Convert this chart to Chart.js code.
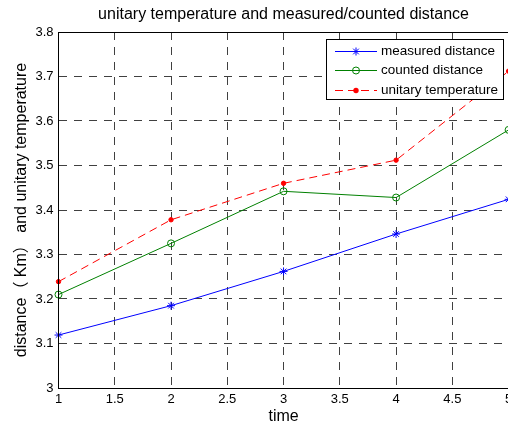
<!DOCTYPE html>
<html><head><meta charset="utf-8">
<script src="https://cdn.jsdelivr.net/npm/chart.js@4"></script>
<style>
html,body{margin:0;padding:0;background:#fff;overflow:hidden;width:508px;height:426px}
canvas{display:block}
</style></head>
<body><canvas id="c" width="520" height="426"></canvas>
<script>
const times = [1, 2, 3, 4, 5];
const measuredDistance = [3.119, 3.185, 3.262, 3.346, 3.424];
const countedDistance = [3.210, 3.325, 3.442, 3.428, 3.580];
const unitaryTemperature = [3.239, 3.378, 3.460, 3.512, 3.712];
const xTicks = [1, 1.5, 2, 2.5, 3, 3.5, 4, 4.5, 5];
const yTicks = [3, 3.1, 3.2, 3.3, 3.4, 3.5, 3.6, 3.7, 3.8];
const seriesNames = ['measured distance', 'counted distance', 'unitary temperature'];
const titleText = 'unitary temperature and measured/counted distance';
const xLabel = 'time';
const yLabel = 'distance（ Km） and unitary temperature';

const FAMILY = "'Liberation Sans', Arial, 'Noto Sans CJK SC', sans-serif";
const BLUE = '#0000ff', GREEN = '#008000', RED = '#ff0000';

function pts(vals) { return times.map((t, i) => ({ x: t, y: vals[i] })); }

function drawMarker(ctx, style, x, y, color) {
  ctx.save();
  ctx.strokeStyle = color; ctx.fillStyle = color; ctx.lineWidth = 1; ctx.setLineDash([]);
  if (style === 'star') {
    const r = 4, d = r * Math.SQRT1_2;
    ctx.beginPath();
    ctx.moveTo(x - r, y); ctx.lineTo(x + r, y);
    ctx.moveTo(x, y - r); ctx.lineTo(x, y + r);
    ctx.moveTo(x - d, y - d); ctx.lineTo(x + d, y + d);
    ctx.moveTo(x - d, y + d); ctx.lineTo(x + d, y - d);
    ctx.stroke();
  } else if (style === 'circle') {
    ctx.beginPath(); ctx.arc(x, y, 3.5, 0, Math.PI * 2); ctx.stroke();
  } else {
    ctx.beginPath(); ctx.arc(x, y, 2.7, 0, Math.PI * 2); ctx.fill();
  }
  ctx.restore();
}

const decor = {
  id: 'decor',
  afterDraw(chart) {
    const { ctx, chartArea: a } = chart;
    ctx.save();
    // axes box
    ctx.strokeStyle = '#000'; ctx.lineWidth = 1; ctx.setLineDash([]);
    const L = Math.floor(a.left) + 0.5, R = Math.floor(a.right) + 0.5;
    const T = Math.floor(a.top) + 0.5, B = Math.floor(a.bottom) + 0.5;
    ctx.strokeRect(L, T, R - L, B - T);

    // legend
    const bx = Math.floor(a.right - 182) + 0.5, by = Math.floor(a.top + 7) + 0.5;
    const bw = 177, bh = 60;
    ctx.fillStyle = '#fff';
    ctx.fillRect(bx, by, bw, bh);
    ctx.strokeStyle = '#000';
    ctx.strokeRect(bx, by, bw, bh);
    const rows = [by + 11, by + 30.5, by + 50];
    const styles = [
      { color: BLUE, dash: [], marker: 'star' },
      { color: GREEN, dash: [], marker: 'circle' },
      { color: RED, dash: [8, 5], marker: 'dot' }
    ];
    ctx.font = '13.5px ' + FAMILY;
    ctx.textAlign = 'left'; ctx.textBaseline = 'middle';
    for (let i = 0; i < 3; i++) {
      const y = Math.round(rows[i]) + 0.5;
      const s = styles[i];
      ctx.save();
      ctx.strokeStyle = s.color; ctx.lineWidth = 1; ctx.setLineDash(s.dash);
      ctx.beginPath(); ctx.moveTo(bx + 8.5, y); ctx.lineTo(bx + 50.5, y); ctx.stroke();
      ctx.restore();
      drawMarker(ctx, s.marker, bx + 29.5, y, s.color);
      ctx.fillStyle = '#000';
      ctx.fillText(seriesNames[i], bx + 54.5, y);
    }

    // title
    ctx.fillStyle = '#000';
    ctx.font = '16px ' + FAMILY;
    ctx.textAlign = 'center'; ctx.textBaseline = 'alphabetic';
    ctx.fillText(titleText, (a.left + a.right) / 2, 18.5);
    ctx.restore();
  }
};

new Chart(document.getElementById('c'), {
  type: 'line',
  data: {
    datasets: [
      { label: seriesNames[0], data: pts(measuredDistance), borderColor: BLUE, backgroundColor: BLUE,
        borderWidth: 1, pointStyle: 'star', pointRadius: 4, pointBorderWidth: 1,
        pointBorderColor: BLUE, pointBackgroundColor: BLUE, tension: 0, fill: false, clip: false },
      { label: seriesNames[1], data: pts(countedDistance), borderColor: GREEN, backgroundColor: GREEN,
        borderWidth: 1, pointStyle: 'circle', pointRadius: 3.5, pointBorderWidth: 1,
        pointBorderColor: GREEN, pointBackgroundColor: 'rgba(0,0,0,0)', tension: 0, fill: false, clip: false },
      { label: seriesNames[2], data: pts(unitaryTemperature), borderColor: RED, backgroundColor: RED,
        borderWidth: 1, borderDash: [8, 5], pointStyle: 'circle', pointRadius: 2.2, pointBorderWidth: 1,
        pointBorderColor: RED, pointBackgroundColor: RED, tension: 0, fill: false, clip: false }
    ]
  },
  options: {
    responsive: false,
    animation: false,
    devicePixelRatio: 1,
    layout: { padding: { left: 0, right: 11.4, top: 32, bottom: 0 } },
    plugins: { legend: { display: false }, tooltip: { enabled: false }, title: { display: false } },
    events: [],
    scales: {
      x: {
        type: 'linear', min: 1, max: 5,
        afterBuildTicks: s => { s.ticks = xTicks.map(v => ({ value: v })); },
        afterFit: s => { s.height = 38; },
        ticks: { font: { size: 13, family: FAMILY }, color: '#000', padding: 4, maxRotation: 0,
                 autoSkip: false, callback: v => String(v) },
        grid: { color: '#404040', lineWidth: 1, drawTicks: false, tickLength: 0 },
        border: { display: false, dash: [8, 7] },
        title: { display: true, text: xLabel, color: '#000',
                 font: { size: 16, family: FAMILY, lineHeight: 1 }, padding: { top: 0, bottom: 1 } }
      },
      y: {
        type: 'linear', min: 3, max: 3.8,
        afterBuildTicks: s => { s.ticks = yTicks.map(v => ({ value: v })); },
        afterFit: s => { s.width = 58.5; },
        ticks: { font: { size: 13, family: FAMILY }, color: '#000', padding: 5,
                 callback: v => String(Number(v.toFixed(1))) },
        grid: { color: '#404040', lineWidth: 1, drawTicks: false, tickLength: 0 },
        border: { display: false, dash: [8, 7] },
        title: { display: true, text: yLabel, color: '#000',
                 font: { size: 16, family: FAMILY, lineHeight: 1 }, padding: { top: 14, bottom: 0 } }
      }
    }
  },
  plugins: [decor]
});
</script>
</body></html>
